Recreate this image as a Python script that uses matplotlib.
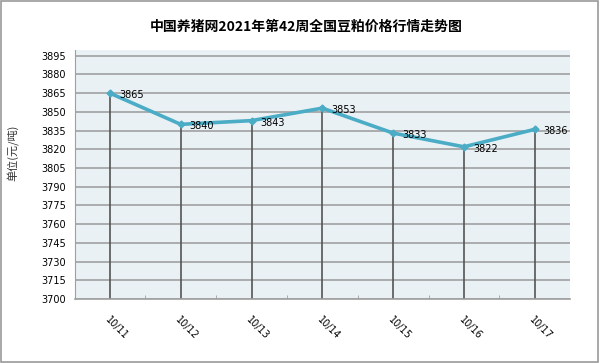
import matplotlib
matplotlib.use("Agg")
import matplotlib.pyplot as plt
from matplotlib.patches import Rectangle

plt.rcParams['font.family'] = ['Noto Sans CJK SC', 'DejaVu Sans']

dates = ["10/11", "10/12", "10/13", "10/14", "10/15", "10/16", "10/17"]
prices = [3865, 3840, 3843, 3853, 3833, 3822, 3836]
yticks = list(range(3700, 3896, 15))
title = "中国养猪网2021年第42周全国豆粕价格行情走势图"
ylabel = "单位(元/吨)"

fig = plt.figure(figsize=(6.0, 3.63), dpi=100)
fig.patches.append(Rectangle((0.002, 0.003), 0.995, 0.993, transform=fig.transFigure,
                             fill=False, edgecolor='#999999', linewidth=1.2))
ax = fig.add_axes([0.1242, 0.1763, 0.826, 0.6873])
ax.set_facecolor('#EAF1F5')
x = list(range(len(dates)))
ax.set_xlim(-0.5, len(dates) - 0.5)
ax.set_ylim(3700, 3900)
ax.set_yticks(yticks)
ax.set_yticklabels([str(v) for v in yticks], fontsize=7, family='DejaVu Sans')
ax.yaxis.grid(True, color='#A0A0A0', linewidth=1.2)
ax.set_axisbelow(True)
ax.tick_params(axis='y', length=0, pad=6)
for s in ['top', 'right']:
    ax.spines[s].set_visible(False)
ax.spines['left'].set_color('#A0A0A0')
ax.spines['bottom'].set_color('#A0A0A0')
ax.spines['bottom'].set_linewidth(1.2)

ax.vlines(x, 3700, prices, colors='#555555', linewidth=1.2, zorder=2)
ax.plot(x, prices, color='#4BACC6', linewidth=2.6, marker='D', markersize=3.5,
        zorder=3)
for xi, v in zip(x, prices):
    ax.annotate(str(v), (xi, v), xytext=(6.5, -1.5), textcoords='offset points',
                fontsize=7, family='DejaVu Sans', va='center', ha='left', zorder=4)

ax.set_xticks(x)
ax.set_xticks([i + 0.5 for i in range(len(dates) - 1)], minor=True)
ax.tick_params(axis='x', which='minor', length=3, direction='in', color='#A0A0A0')
ax.tick_params(axis='x', which='major', length=0, pad=11)
ax.set_xticklabels(dates, rotation=-45, ha='left', rotation_mode='anchor',
                   fontsize=7, family='DejaVu Sans')

fig.text(0.51, 0.925, title, ha='center', va='center', fontsize=10, fontweight='bold')
fig.text(0.023, 0.578, ylabel, rotation=90, ha='center', va='center', fontsize=8,
         color='#333333')

fig.savefig('out.png', dpi=100)
